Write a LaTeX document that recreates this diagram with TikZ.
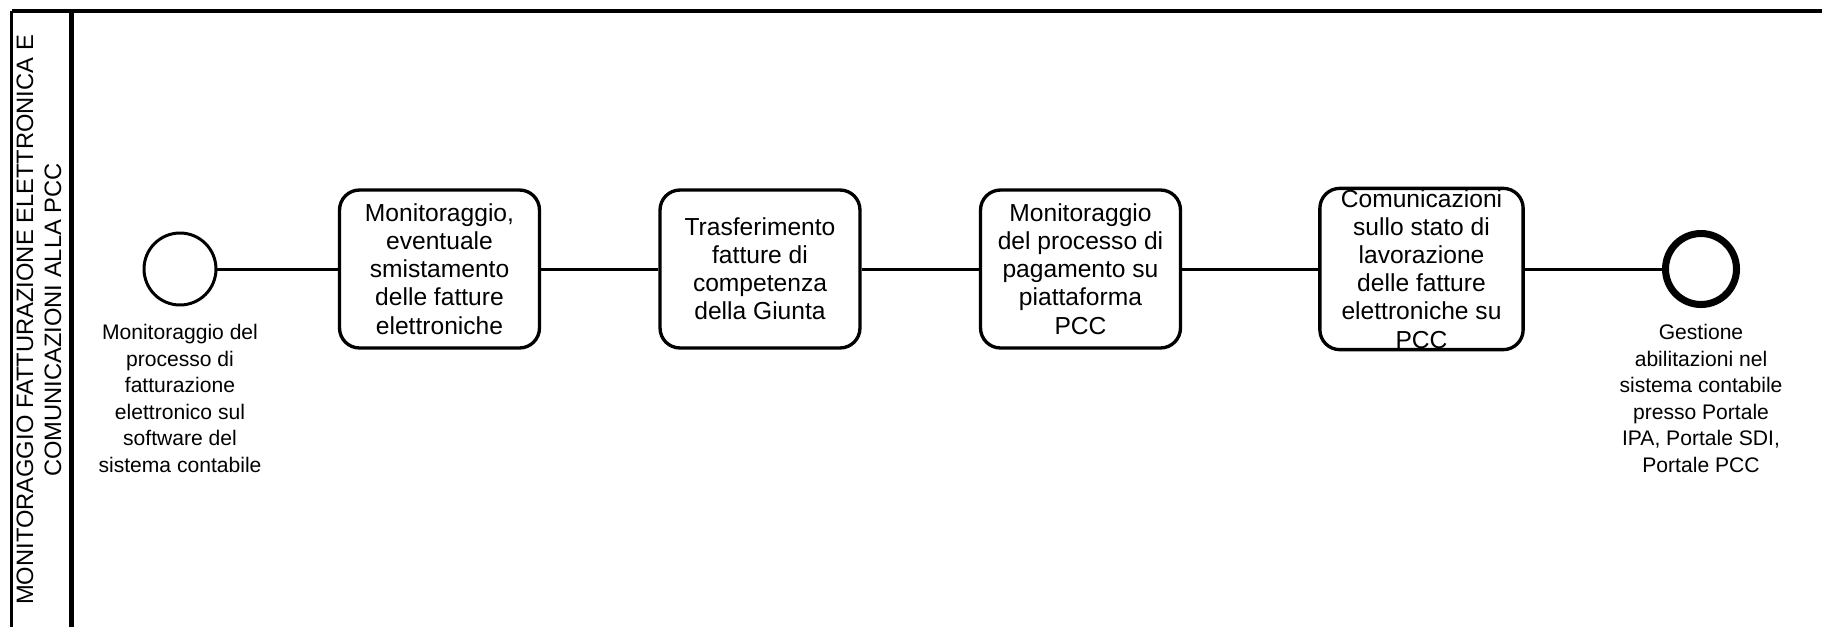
\documentclass[tikz,border=0pt]{standalone}
\usepackage{fontspec}
\setmainfont{Liberation Sans}
\usepackage{tikz}

\begin{document}
\begin{tikzpicture}[x=0.02cm, y=-0.02cm,
  task/.style={draw, line width=1.9pt, rounded corners=0.4cm, minimum width=4cm, minimum height=3.16cm, inner sep=0pt, align=center, font=\fontsize{14}{16}\selectfont},
  startev/.style={draw, circle, line width=1.7pt, minimum size=1.44cm, inner sep=0pt},
  endev/.style={draw, circle, line width=4pt, minimum size=1.42cm, inner sep=0pt},
  evlabel/.style={anchor=north, inner sep=0pt, align=center, font=\fontsize{12}{15.1}\selectfont},
  flow/.style={line width=1.7pt}]
\useasboundingbox (0,0) rectangle (1822,626);
\clip (0,0) rectangle (1822,626);
% pool and lane
\draw[line width=2.3pt] (11.5,11) -- (1840,11);
\draw[line width=1.7pt] (11.5,11) -- (11.5,640);
\draw[line width=2.8pt] (71.5,11) -- (71.5,640);
\node[rotate=90, align=center, inner sep=0pt, font=\fontsize{13.5}{16}\selectfont] (lane) at (39,320)
  {MONITORAGGIO FATTURAZIONE ELETTRONICA E\\COMUNICAZIONI ALLA PCC};
% events and tasks
\node[startev] (start) at (180,269) {};
\node[evlabel] (startlbl) at (180,324) {Monitoraggio del\\processo di\\fatturazione\\elettronico sul\\software del\\sistema contabile};
\node[task] (smist) at (439.5,269) {Monitoraggio,\\eventuale\\smistamento\\delle fatture\\elettroniche};
\node[task] (trasf) at (760,269) {Trasferimento\\fatture di\\competenza\\della Giunta};
\node[task] (pagam) at (1080.5,269) {Monitoraggio\\del processo di\\pagamento su\\piattaforma\\PCC};
\node[task, draw=none] (comun) at (1421.5,269) {};
\begin{scope}
\clip[rounded corners=0.4cm] (comun.south west) rectangle (comun.north east);
\node[task, draw=none] (comuntxt) at (comun.center) {Comunicazioni\\sullo stato di\\lavorazione\\delle fatture\\elettroniche su\\PCC};
\end{scope}
\draw[line width=1.9pt, rounded corners=0.4cm] (comun.south west) rectangle (comun.north east);
\node[endev] (end) at (1701,269) {};
\node[evlabel] (endlbl) at (1701,324) {Gestione\\abilitazioni nel\\sistema contabile\\presso Portale\\IPA, Portale SDI,\\Portale PCC};
% sequence flows
\draw[flow] (start) -- (smist);
\draw[flow] (smist) -- (trasf);
\draw[flow] (trasf) -- (pagam);
\draw[flow] (pagam) -- (comun);
\draw[flow] (comun) -- (end);
\end{tikzpicture}
\end{document}
